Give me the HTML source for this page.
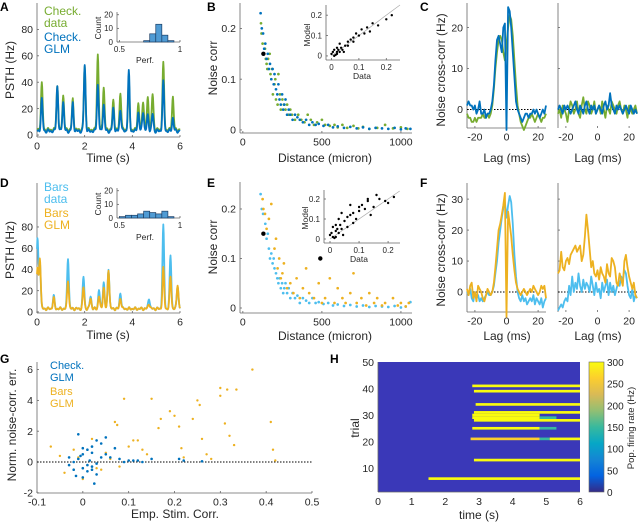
<!DOCTYPE html>
<html><head><meta charset="utf-8">
<style>
html,body{margin:0;padding:0;background:#fff;}
svg{display:block;font-family:"Liberation Sans",Arial,sans-serif;}
</style></head>
<body>
<svg id="fig" width="640" height="522" viewBox="0 0 640 522" xmlns="http://www.w3.org/2000/svg">
<defs>
<linearGradient id="parula" x1="0" y1="1" x2="0" y2="0">
<stop offset="0" stop-color="#352a87"/><stop offset="0.125" stop-color="#0363e1"/><stop offset="0.25" stop-color="#1485d4"/><stop offset="0.375" stop-color="#06a7c6"/><stop offset="0.5" stop-color="#38b99e"/><stop offset="0.625" stop-color="#92bf73"/><stop offset="0.75" stop-color="#d9ba56"/><stop offset="0.875" stop-color="#fcce2e"/><stop offset="1" stop-color="#f9fb0e"/>
</linearGradient>
</defs>
<g font-weight="bold" font-size="12" fill="#000">
<text x="0" y="11">A</text>
<text x="207" y="11">B</text>
<text x="420" y="11">C</text>
<text x="0" y="187">D</text>
<text x="207" y="187">E</text>
<text x="420" y="187">F</text>
<text x="0" y="363">G</text>
<text x="330" y="363">H</text>
</g>
<g font-size="12">
<text x="44" y="15" fill="#77ac30">Check.</text>
<text x="44" y="27" fill="#77ac30">data</text>
<text x="44" y="41" fill="#0072bd">Check.</text>
<text x="44" y="53" fill="#0072bd">GLM</text>
<text x="44" y="191" fill="#4dbeee">Bars</text>
<text x="44" y="203" fill="#4dbeee">data</text>
<text x="44" y="217" fill="#edb120">Bars</text>
<text x="44" y="229" fill="#edb120">GLM</text>
<text x="50" y="369" fill="#0072bd" font-size="11">Check.</text>
<text x="50" y="381" fill="#0072bd" font-size="11">GLM</text>
<text x="50" y="395" fill="#edb120" font-size="11">Bars</text>
<text x="50" y="407" fill="#edb120" font-size="11">GLM</text>
</g>
</svg>
<script>
// ---------- data ----------
const psthPeakT_A = [0.2,0.85,1.1,1.5,2.0,2.55,2.8,3.2,3.5,3.85,4.25,4.45,4.65,4.85,5.3,5.7];
const psthDataH_A = [35,33,26,23,48,57,32,22,28,35,20,22,24,27,50,25];
const psthGlmH_A  = [24,34,22,21,50,35,20,17,16,45,14,15,12,13,37,10];
const psthPeakT_D = [0.02,0.12,0.7,1.3,1.95,2.25,2.6,2.8,3.0,3.5,4.7,5.3,5.6,5.9];
const psthDataH_D = [66,45,12,48,30,12,18,25,38,15,10,78,50,22];
const psthGlmH_D  = [38,48,10,27,20,10,12,20,37,10,5,38,30,23];
const histBins = [0.5,0.55,0.6,0.65,0.7,0.75,0.8,0.85,0.9,0.95];
const histA = [0,0,0,0,1,6,13,5,1,0];
const histD = [1,2,2,3,5,4,3,5,1,0];

const bGreenX=[115,118,125,130,140,145,150,155,160,170,175,185,190,200,205,210,220,225,235,240,250,260,270,280,290,300,310,330,350,370,390,410,430,450,470,500,520,550,580,600,630,660,700,730,760,800,850,900,950,1000,1040];
const bGreenY=[.21,.19,.17,.15,.16,.14,.13,.12,.14,.15,.11,.12,.07,.09,.1,.06,.05,.11,.07,.04,.06,.05,.04,.05,.03,.04,.03,.02,.03,.02,.015,.03,.02,.01,.015,.02,.01,.008,.01,.005,.01,.004,.008,.003,.006,.002,.004,.01,.003,.005,.002];
const bBlueX=[112,120,128,135,142,150,158,165,172,180,188,195,200,210,218,225,232,240,248,255,262,270,280,290,300,315,330,345,360,380,400,420,440,460,480,510,540,570,600,640,680,720,760,800,840,880,920,960,1000,1030,1060];
const bBlueY=[.23,.2,.19,.16,.17,.14,.15,.12,.13,.1,.12,.09,.11,.08,.07,.09,.06,.05,.07,.04,.05,.06,.03,.04,.03,.02,.03,.025,.02,.015,.02,.01,.015,.01,.012,.008,.01,.005,.007,.004,.006,.003,.005,.002,.004,.003,.002,.004,.001,.003,.002];
const bInsetX=[0,.01,.02,.01,.03,.02,.04,.05,.03,.06,.07,.08,.1,.09,.12,.11,.14,.13,.15,.17,.2,.22,.02,.005,.015,.025,.035,.045,.06,.08];
const bInsetY=[.01,0,.02,.03,.02,.04,.03,.05,.06,.05,.08,.07,.1,.11,.11,.13,.12,.14,.16,.15,.18,.2,.01,.02,.005,.03,.04,.02,.07,.09];
const eOrangeX=[125,130,140,150,165,180,200,210,220,230,240,250,260,280,300,320,340,360,380,400,420,450,480,500,520,550,580,600,630,650,680,700,720,750,780,800,830,850,880,900,950,980,1000,1030,1050];
const eOrangeY=[.22,.2,.19,.16,.18,.21,.12,.14,.08,.1,.06,.07,.09,.04,.05,.03,.06,.02,.04,.08,.03,.02,.05,.01,.02,.06,.01,.04,.02,.01,.03,.07,.01,.02,.005,.03,.01,.02,.005,.01,.02,.005,.01,.003,.01];
const eBlueX=bBlueX.slice();
const eBlueY=[.23,.2,.19,.15,.17,.14,.15,.12,.1,.11,.09,.1,.08,.07,.06,.05,.06,.04,.05,.03,.04,.05,.03,.04,.02,.03,.02,.025,.01,.02,.015,.01,.02,.01,.012,.008,.01,.005,.007,.004,.006,.003,.005,.002,.004,.003,.002,.004,.001,.003,.012];
const eInsetX=[0,.01,.02,.01,.03,.02,.04,.05,.03,.06,.07,.08,.1,.09,.12,.11,.14,.13,.15,.17,.2,.22,.02,.005,.015,.025,.035,.045,.06,.08,.04,.07,.1,.13,.16,.19];
const eInsetY=[.02,.01,.04,.06,.03,.07,.05,.09,.1,.06,.12,.08,.14,.1,.15,.17,.12,.19,.16,.2,.18,.21,.01,.03,.005,.05,.07,.02,.11,.13,.13,.17,.16,.2,.22,.19];

const lags=[]; for(let l=-25;l<=25;l++) lags.push(l);
const cLeftData=[-1,-2,-2,-3,-3,-2,-3,-2,-2,-2,-1,-2,-2,-1,-2,-1,1,5,10,14,17,18,17,14,12,16,20,23,22,18,12,6,1,-1,-3,-4,-5,-4,-3,-2,-2,-1,-2,-3,-2,-1,-2,-3,-2,-2,-1];
const cLeftGlm=[1,2,1,1,0,1,-1,0,2,-1,-1,0,-2,-1,-1,0,2,6,12,17,18,16,14,20,21,-5,25,24,20,14,8,2,0,-1,-2,-3,-2,-1,-1,-2,-1,-1,0,-1,0,-1,-2,-1,0,-1,1];
const cRightData=[-1,0,-2,1,0,-1,-3,0,2,1,-1,0,2,-1,-2,1,3,0,-1,2,1,-1,0,2,-1,0,1,-1,2,0,-2,1,0,-1,2,1,0,-1,1,2,0,-1,1,0,-2,1,0,-1,0,1,-1];
const cRightGlm=[0,1,0,-1,1,0,1,0,-1,0,1,2,0,-1,1,0,-1,1,2,0,-1,1,0,1,-1,0,1,0,-1,1,2,0,1,4,1,0,-1,1,0,1,0,-1,0,1,0,-1,1,0,-1,0,-1];
const fLeftGlm=[1,-1,2,3,-2,0,-3,2,1,0,-2,-3,-1,1,0,-1,0,3,8,14,20,22,25,28,32,-8,26,22,18,12,7,3,1,0,-1,0,1,0,-1,0,1,0,2,1,0,-1,0,2,1,2,-2];
const fLeftData=[0,-1,1,-2,-3,0,-2,-1,-3,-2,-3,-2,-1,0,-1,-1,0,2,6,10,16,20,24,27,29,24,28,31,29,22,12,5,0,-2,-3,-1,-3,-2,-4,-3,-2,-3,-1,-4,-2,-3,-4,-2,-5,-3,-2];
const fRightGlm=[6,7,13,8,7,10,11,9,12,13,14,15,13,14,15,10,12,18,25,20,14,8,10,6,5,7,4,8,6,5,3,9,6,5,11,10,8,3,2,6,4,2,10,12,8,5,3,1,3,-1,-2];
const fRightData=[-6,-5,-4,-5,-3,-2,-3,2,-1,5,0,3,1,6,2,0,4,1,3,2,0,5,2,-1,3,0,1,-2,3,0,2,4,-1,3,0,2,-1,1,3,2,5,4,7,6,2,-1,-2,1,-3,-1,-2];

const gCheckX=[-.03,-.02,-.01,0,.01,.02,.03,-.02,0,.01,.02,.04,.05,.06,-.01,0,.02,.03,-.03,.01,.08,.1,.12,.15,.21,.22,.26,.03,.05,.07,-.005,.015,.025,-.015,.04,.09,.11,.13,.02,0];
const gCheckY=[.3,-.5,1.8,.5,-.2,1,-.8,0,-1,.8,-.3,1.2,1.6,.3,.2,-.4,.6,-.1,-.2,-.6,.2,.1,.1,.2,.2,.1,.05,1.4,.5,.9,.4,.1,-1.4,-.9,.3,0,.1,0,-.5,.9];
const gBarsX=[-.07,-.05,-.04,-.02,0,.02,.04,.07,.075,.09,.1,.11,.13,.15,.165,.17,.19,.2,.21,.215,.22,.24,.25,.255,.26,.27,.28,.3,.3,.31,.315,.32,.33,.335,.37,.41,.415,.42,.06,.08,.12,.14,-.01,.03,.05];
const gBarsY=[1,.4,-.7,.8,-1.1,1.5,-.5,2.6,2.4,4.1,1,1.4,.8,4.1,2.2,2.8,3.3,3,2.3,.9,.3,2.8,4,3.7,1.5,.5,.2,4.3,4.8,2.5,4.7,1.7,1.1,4.7,6,2.6,.8,.1,.2,-.3,1.4,.5,.3,-.4,.6];

const hTrial=[41,39,34,31,30,29,28,25,25,21,21,21,13,6,29];
const hStart=[2.8,2.85,2.9,2.85,2.8,2.8,2.85,2.8,4.8,2.75,4.8,5.1,2.85,1.5,4.8];
const hEnd=[6,6,6,6,4.8,4.8,6,4.8,5.3,4.8,5.1,6,6,6,5.3];
const hRate=[300,290,300,300,300,300,300,300,160,280,150,300,290,300,160];
const cbTicks=[0,50,100,150,200,250,300];

// ---------- helpers ----------
const NS='http://www.w3.org/2000/svg';
const fig=document.getElementById('fig');
function mk(tag,attrs,name,parent){
  const el=document.createElementNS(NS,tag);
  for(const k in attrs) el.setAttribute(k,attrs[k]);
  
  
  (parent||fig).appendChild(el);
  return el;
}
function txt(x,y,s,name,o){
  o=o||{};
  const t=mk('text',{x:x,y:y,'font-size':o.fs||10,fill:o.fill||'#262626','text-anchor':o.anchor||'middle'},name);
  if(o.rot) t.setAttribute('transform','rotate(-90 '+x+' '+y+')');
  t.textContent=s;return t;
}
function axes(p){
  const sx=v=>p.xp[0]+(v-p.xd[0])/(p.xd[1]-p.xd[0])*(p.xp[1]-p.xp[0]);
  const sy=v=>p.yp[0]+(v-p.yd[0])/(p.yd[1]-p.yd[0])*(p.yp[1]-p.yp[0]);
  const fs=p.fs||10;
  mk('line',{x1:p.xp[0],x2:p.xp[0],y1:p.yp[0],y2:p.yp[1],stroke:'#666','stroke-width':0.8},p.name+'-y-axis');
  if(!p.noX) mk('line',{x1:p.xp[0],x2:p.xp[1],y1:p.yp[0],y2:p.yp[0],stroke:'#666','stroke-width':0.8},p.name+'-x-axis');
  (p.xt||[]).forEach(v=>{
    mk('line',{x1:sx(v),x2:sx(v),y1:p.yp[0],y2:p.yp[0]-2,stroke:'#666','stroke-width':0.8},p.name+'-x-tick');
    if(!p.noXL) txt(sx(v),p.yp[0]+fs+2,String(v),p.name+'-x-tick-label',{fs:fs});
  });
  (p.yt||[]).forEach(v=>{
    mk('line',{x1:p.xp[0],x2:p.xp[0]+2,y1:sy(v),y2:sy(v),stroke:'#666','stroke-width':0.8},p.name+'-y-tick');
    if(!p.noYL) txt(p.xp[0]-4,sy(v)+fs*0.35,String(v),p.name+'-y-tick-label',{fs:fs,anchor:'end'});
  });
  return {sx,sy};
}
function line(ax,xs,ys,color,name,w){
  const d=xs.map((x,i)=>(i?'L':'M')+ax.sx(x).toFixed(1)+' '+ax.sy(ys[i]).toFixed(1)).join('');
  mk('path',{d:d,fill:'none',stroke:color,'stroke-width':w||2,'stroke-linejoin':'round'},name);
}
function dots(ax,xs,ys,color,name,r){
  const g=mk('g',{fill:color},name);
  xs.forEach((x,i)=>{
    mk('circle',{cx:ax.sx(x).toFixed(1),cy:ax.sy(ys[i]).toFixed(1),r:r||1.35},name+'-point',g);
  });
}
function psth(ts,hs,base){
  const xs=[],ys=[];
  for(let k=0;k<=360;k++){const t=k/60;let v=base+1.5*Math.sin(t*37)*Math.sin(t*11);
    ts.forEach((tp,i)=>{v+=hs[i]*Math.exp(-Math.pow((t-tp)/0.05,2));});
    xs.push(t);ys.push(Math.max(0,v));}
  return [xs,ys];
}
function hist(ax,counts,name){
  counts.forEach((c,i)=>{ if(!c) return;
    const x0=ax.sx(histBins[i]),x1=ax.sx(histBins[i]+0.05);
    mk('rect',{x:x0,y:ax.sy(c),width:x1-x0,height:ax.sy(0)-ax.sy(c),fill:'#4f9bd4',stroke:'#1c3f66','stroke-width':0.7},name+'-bar');
  });
}
function zero(ax,x0,x1,name){
  mk('line',{x1:ax.sx(x0),x2:ax.sx(x1),y1:ax.sy(0),y2:ax.sy(0),stroke:'#000','stroke-width':1,'stroke-dasharray':'1.5 1.5'},name);
}

// ---------- A ----------
let ax=axes({name:'psth-a',xp:[37,180],xd:[0,6],yp:[137,3],yd:[-1.5,100],xt:[0,2,4,6],yt:[0,20,40,60,80],fs:10.5});
let s=psth(psthPeakT_A,psthDataH_A,4); line(ax,s[0],s[1],'#77ac30','psth-a-data-line',1.8);
s=psth(psthPeakT_A,psthGlmH_A,3); line(ax,s[0],s[1],'#0072bd','psth-a-glm-line',1.8);
txt(14,70,'PSTH (Hz)','psth-a-y-title',{fs:12,rot:1});
txt(108,162,'Time (s)','psth-a-x-title',{fs:12});
ax=axes({name:'hist-a',xp:[117,180],xd:[0.48,1],yp:[42,12],yd:[0,22],xt:[0.5,1],yt:[0,10,20],fs:8});
hist(ax,histA,'hist-a');
txt(101,28,'Count','hist-a-y-title',{fs:8.5,rot:1});
txt(145,63,'Perf.','hist-a-x-title',{fs:8.5});

// ---------- B ----------
ax=axes({name:'scatter-b',xp:[240,412],xd:[-18,1070],yp:[133,3],yd:[-0.006,0.25],xt:[0,500,1000],yt:[0,0.1,0.2],fs:10.5});
dots(ax,bGreenX,bGreenY,'#77ac30','scatter-b-data');
dots(ax,bBlueX,bBlueY,'#0072bd','scatter-b-glm');
mk('circle',{cx:ax.sx(130),cy:ax.sy(0.15),r:2.2,fill:'#000'},'scatter-b-highlight');
txt(217,68,'Noise corr','scatter-b-y-title',{fs:12,rot:1});
txt(325,162,'Distance (micron)','scatter-b-x-title',{fs:12});
ax=axes({name:'inset-b',xp:[326,400],xd:[-0.02,0.25],yp:[60,5],yd:[-0.02,0.25],xt:[0,0.1,0.2],yt:[0,0.1,0.2],fs:8});
mk('line',{x1:ax.sx(0),y1:ax.sy(0),x2:ax.sx(0.25),y2:ax.sy(0.25),stroke:'#aaa','stroke-width':0.7},'inset-b-diagonal');
dots(ax,bInsetX,bInsetY,'#000','inset-b-points',1.2);
txt(310,35,'Model','inset-b-y-title',{fs:8.5,rot:1});
txt(362,79,'Data','inset-b-x-title',{fs:8.5});

// ---------- C ----------
ax=axes({name:'xcorr-c-left',xp:[467,546],xd:[-25,25],yp:[128,3],yd:[-4.5,26],xt:[-20,0,20],yt:[0,10,20],fs:10.5});
zero(ax,-25,25,'xcorr-c-left-zero');
line(ax,lags,cLeftData,'#77ac30','xcorr-c-left-data',1.8);
line(ax,lags,cLeftGlm,'#0072bd','xcorr-c-left-glm',1.8);
txt(445,70,'Noise cross-corr (Hz)','xcorr-c-y-title',{fs:12,rot:1});
txt(507,162,'Lag (ms)','xcorr-c-left-x-title',{fs:12});
ax=axes({name:'xcorr-c-right',xp:[558,637],xd:[-25,25],yp:[128,3],yd:[-4.5,26],xt:[-20,0,20],yt:[0,10,20],fs:10.5,noYL:1,noX:1});
zero(ax,-25,25,'xcorr-c-right-zero');
line(ax,lags,cRightData,'#77ac30','xcorr-c-right-data',1.8);
line(ax,lags,cRightGlm,'#0072bd','xcorr-c-right-glm',1.8);
txt(598,162,'Lag (ms)','xcorr-c-right-x-title',{fs:12});

// ---------- D ----------
ax=axes({name:'psth-d',xp:[37,180],xd:[0,6],yp:[313,183],yd:[-1,121.4],xt:[0,2,4,6],yt:[0,20,40,60,80],fs:10.5});
s=psth(psthPeakT_D,psthDataH_D,3); line(ax,s[0],s[1],'#4dbeee','psth-d-data-line',1.8);
s=psth(psthPeakT_D,psthGlmH_D,3); line(ax,s[0],s[1],'#edb120','psth-d-glm-line',1.8);
txt(14,250,'PSTH (Hz)','psth-d-y-title',{fs:12,rot:1});
txt(108,339,'Time (s)','psth-d-x-title',{fs:12});
ax=axes({name:'hist-d',xp:[117,180],xd:[0.48,1],yp:[218,188],yd:[0,22],xt:[0.5,1],yt:[0,10,20],fs:8});
hist(ax,histD,'hist-d');
txt(101,204,'Count','hist-d-y-title',{fs:8.5,rot:1});
txt(145,240,'Perf.','hist-d-x-title',{fs:8.5});

// ---------- E ----------
ax=axes({name:'scatter-e',xp:[240,412],xd:[-18,1070],yp:[313,182],yd:[-0.0101,0.2545],xt:[0,500,1000],yt:[0,0.1,0.2],fs:10.5});
dots(ax,eBlueX,eBlueY,'#4dbeee','scatter-e-data');
dots(ax,eOrangeX,eOrangeY,'#edb120','scatter-e-glm');
mk('circle',{cx:ax.sx(130),cy:ax.sy(0.15),r:2.2,fill:'#000'},'scatter-e-highlight');
mk('circle',{cx:ax.sx(490),cy:ax.sy(0.1),r:2.2,fill:'#000'},'scatter-e-highlight-2');
txt(217,247,'Noise corr','scatter-e-y-title',{fs:12,rot:1});
txt(325,340,'Distance (micron)','scatter-e-x-title',{fs:12});
ax=axes({name:'inset-e',xp:[324,400],xd:[-0.0207,0.241],yp:[243,190],yd:[-0.02,0.245],xt:[0,0.1,0.2],yt:[0,0.1,0.2],fs:8});
mk('line',{x1:ax.sx(0),y1:ax.sy(0),x2:ax.sx(0.24),y2:ax.sy(0.24),stroke:'#aaa','stroke-width':0.7},'inset-e-diagonal');
dots(ax,eInsetX,eInsetY,'#000','inset-e-points',1.2);
txt(308,218,'Model','inset-e-y-title',{fs:8.5,rot:1});
txt(359,262,'Data','inset-e-x-title',{fs:8.5});

// ---------- F ----------
ax=axes({name:'xcorr-f-left',xp:[467,546],xd:[-25,25],yp:[312,183],yd:[-6.45,35.2],xt:[-20,0,20],yt:[0,10,20,30],fs:10.5});
zero(ax,-25,25,'xcorr-f-left-zero');
line(ax,lags,fLeftData,'#4dbeee','xcorr-f-left-data',1.8);
line(ax,lags,fLeftGlm,'#edb120','xcorr-f-left-glm',1.8);
txt(445,250,'Noise cross-corr (Hz)','xcorr-f-y-title',{fs:12,rot:1});
txt(507,340,'Lag (ms)','xcorr-f-left-x-title',{fs:12});
ax=axes({name:'xcorr-f-right',xp:[558,637],xd:[-25,25],yp:[312,183],yd:[-6.45,35.2],xt:[-20,0,20],yt:[0,10,20,30],fs:10.5,noYL:1,noX:1});
zero(ax,-25,25,'xcorr-f-right-zero');
line(ax,lags,fRightData,'#4dbeee','xcorr-f-right-data',1.8);
line(ax,lags,fRightGlm,'#edb120','xcorr-f-right-glm',1.8);
txt(598,340,'Lag (ms)','xcorr-f-right-x-title',{fs:12});

// ---------- G ----------
ax=axes({name:'scatter-g',xp:[37,312],xd:[-0.1,0.5],yp:[493,362],yd:[-2.01,6.49],xt:[-0.1,0,0.1,0.2,0.3,0.4,0.5],yt:[-2,0,2,4,6],fs:10.5});
zero(ax,-0.1,0.5,'scatter-g-zero-line');
dots(ax,gBarsX,gBarsY,'#edb120','scatter-g-bars',1.2);
dots(ax,gCheckX,gCheckY,'#0072bd','scatter-g-check',1.3);
txt(16,425,'Norm. noise-corr. err.','scatter-g-y-title',{fs:12,rot:1});
txt(175,518,'Emp. Stim. Corr.','scatter-g-x-title',{fs:12});

// ---------- H ----------
const hx=v=>378+v/6*202, hy=v=>494.5-v*2.65;
mk('rect',{x:378,y:362,width:202,height:130,fill:'#3a38b8'},'heatmap-background');
function parula(r){const st=['#352a87','#0363e1','#1485d4','#06a7c6','#38b99e','#92bf73','#d9ba56','#fcce2e','#f9fb0e'];const i=Math.min(8,Math.round(r/300*8));return st[i];}
hTrial.forEach((tr,i)=>{
  mk('rect',{x:hx(hStart[i]),y:hy(tr)-1.3,width:hx(hEnd[i])-hx(hStart[i]),height:2.65,fill:parula(hRate[i])},'heatmap-row');
});
mk('line',{x1:378,x2:378,y1:362,y2:492,stroke:'#666','stroke-width':0.8},'heatmap-y-axis');
mk('line',{x1:378,x2:580,y1:492,y2:492,stroke:'#666','stroke-width':0.8},'heatmap-x-axis');
[0,1,2,3,4,5,6].forEach(v=>{txt(hx(v),505,String(v),'heatmap-x-tick-label',{fs:10.5});});
[10,20,30,40,50].forEach(v=>{txt(374,hy(v)+4,String(v),'heatmap-y-tick-label',{fs:10.5,anchor:'end'});});
txt(359,428,'trial','heatmap-y-title',{fs:12,rot:1});
txt(479,519,'time (s)','heatmap-x-title',{fs:12});
mk('rect',{x:589,y:362,width:15,height:130,fill:'url(#parula)',stroke:'#666','stroke-width':0.6},'colorbar');
cbTicks.forEach(v=>{const y=492-v/300*130;txt(607,y+4,String(v),'colorbar-tick-label',{fs:10,anchor:'start'});});
txt(634,428,'Pop. firing rate (Hz)','colorbar-title',{fs:9.5,rot:1});
</script>
</body></html>
